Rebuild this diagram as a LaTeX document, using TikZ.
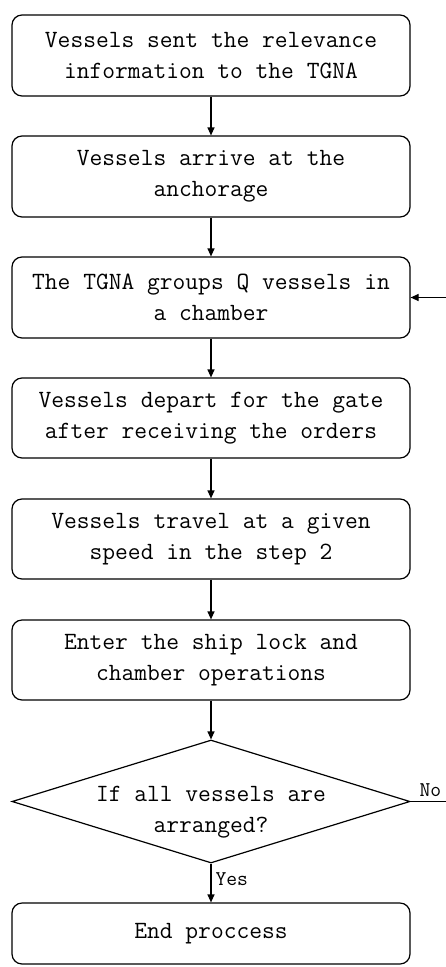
\documentclass[tikz,border=0pt]{standalone}
\usepackage{fontspec}
\usetikzlibrary{arrows.meta,shapes.geometric}
\begin{document}
\begin{tikzpicture}[x=1pt,y=-1pt,
  every path/.style={line width=1.2pt},
  stepbox/.style={draw, line width=1.2pt, rounded corners=10pt, minimum width=398pt, inner sep=0pt, align=center, font=\fontsize{24.8}{31}\selectfont\ttfamily},
  decision/.style={draw, line width=1.2pt, shape=diamond, minimum width=398pt, minimum height=123pt, inner sep=0pt},
  dtxt/.style={align=center, font=\fontsize{24.8}{31}\selectfont\ttfamily},
  small/.style={font=\fontsize{21}{24}\selectfont\ttfamily, inner sep=0pt},
  flow/.style={line width=1.2pt, -{Triangle[length=8pt,width=7pt]}}
]
\useasboundingbox (0,0) rectangle (445,967);
\node[stepbox, minimum height=81pt] (b1) at (211,55.5) {Vessels sent the relevance\\information to the TGNA};
\node[stepbox, minimum height=81pt] (b2) at (211,176.5) {Vessels arrive at the\\anchorage};
\node[stepbox, minimum height=81pt] (b3) at (211,297.5) {The TGNA groups Q vessels in\\a chamber};
\node[stepbox, minimum height=80pt] (b4) at (211,418) {Vessels depart for the gate\\after receiving the orders};
\node[stepbox, minimum height=80pt] (b5) at (211,539) {Vessels travel at a given\\speed in the step 2};
\node[stepbox, minimum height=80pt] (b6) at (211,660) {Enter the ship lock and\\chamber operations};
\node[decision] (d) at (211,801.5) {};
\node[dtxt] (dt) at (211,812) {If all vessels are\\arranged?};
\node[stepbox, minimum height=61pt] (e) at (211,933.5) {End proccess};
\draw[flow] (b1) -- (b2);
\draw[flow] (b2) -- (b3);
\draw[flow] (b3) -- (b4);
\draw[flow] (b4) -- (b5);
\draw[flow] (b5) -- (b6);
\draw[flow] (b6) -- (d);
\draw[flow] (d.south) -- node[small, right=4pt, pos=0.4] (yes) {Yes} (e);
\coordinate (loop) at (449,801.5);
\draw[flow] (d.east) -- (loop) |- (b3.east);
\node[small, anchor=south west] (no) at (419,797) {No};
\end{tikzpicture}
\end{document}
